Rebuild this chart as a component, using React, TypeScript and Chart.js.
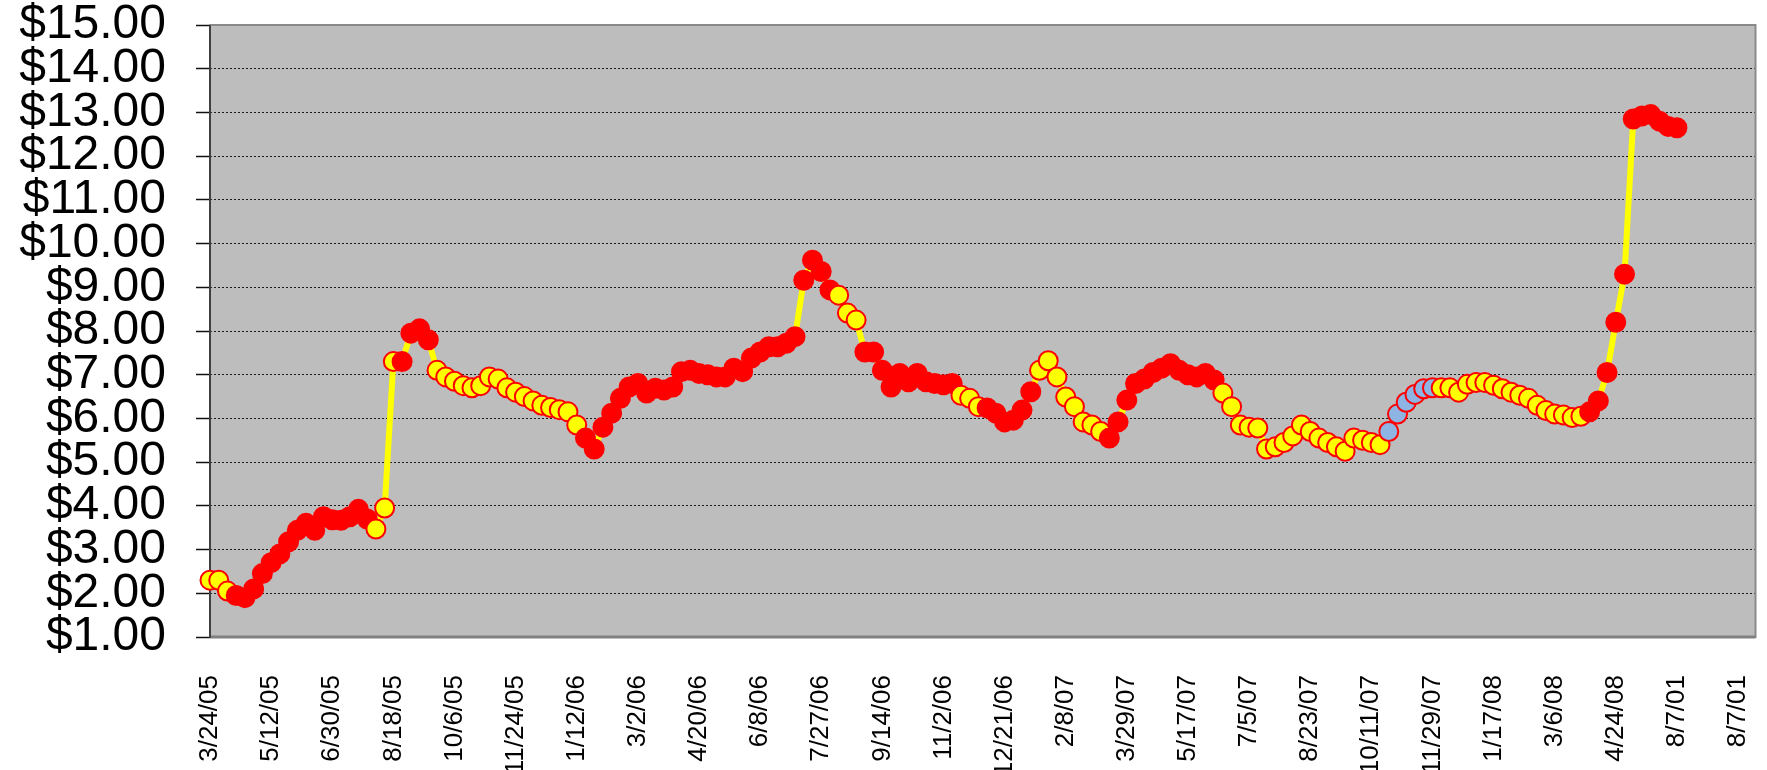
import React, { useEffect, useRef } from 'react';
import { Chart, registerables } from 'chart.js';

Chart.register(...registerables);

// Tick labels shown every 7th weekly category (as printed on the chart)
const tickLabels = [
  '3/24/05', '5/12/05', '6/30/05', '8/18/05', '10/6/05', '11/24/05', '1/12/06',
  '3/2/06', '4/20/06', '6/8/06', '7/27/06', '9/14/06', '11/2/06', '12/21/06',
  '2/8/07', '3/29/07', '5/17/07', '7/5/07', '8/23/07', '10/11/07', '11/29/07',
  '1/17/08', '3/6/08', '4/24/08', '8/7/01', '8/7/01',
];
const labelEvery = 7;
const categoryCount = 178;

// Weekly closing price
const prices = [
  2.3, 2.3, 2.05, 1.95, 1.9, 2.1, 2.45, 2.7, 2.9, 3.18,
  3.44, 3.6, 3.44, 3.75, 3.68, 3.67, 3.75, 3.92, 3.7, 3.47,
  3.95, 7.3, 7.3, 7.95, 8.05, 7.8, 7.1, 6.95, 6.85, 6.75,
  6.7, 6.75, 6.95, 6.9, 6.7, 6.6, 6.5, 6.4, 6.3, 6.25,
  6.2, 6.15, 5.85, 5.55, 5.3, 5.8, 6.12, 6.46, 6.72, 6.8,
  6.58, 6.69, 6.65, 6.72, 7.07, 7.1, 7.03, 7.0, 6.95, 6.95,
  7.15, 7.07, 7.38, 7.52, 7.64, 7.64, 7.72, 7.87, 9.16, 9.62,
  9.36, 8.94, 8.82, 8.41, 8.25, 7.52, 7.52, 7.1, 6.72, 7.03,
  6.84, 7.03, 6.84, 6.8, 6.77, 6.8, 6.53, 6.46, 6.27, 6.24,
  6.12, 5.92, 5.96, 6.19, 6.61, 7.1, 7.32, 6.95, 6.49, 6.27,
  5.92, 5.85, 5.7, 5.55, 5.92, 6.42, 6.8, 6.9, 7.05, 7.15,
  7.25, 7.1, 7.0, 6.95, 7.03, 6.88, 6.58, 6.27, 5.85, 5.8,
  5.78, 5.3, 5.35, 5.45, 5.6, 5.85, 5.7, 5.55, 5.45, 5.35,
  5.25, 5.55, 5.5, 5.45, 5.4, 5.7, 6.1, 6.37, 6.55, 6.68,
  6.7, 6.7, 6.7, 6.6, 6.78, 6.82, 6.82, 6.76, 6.68, 6.6,
  6.53, 6.46, 6.3, 6.18, 6.1, 6.08, 6.02, 6.05, 6.15, 6.4,
  7.05, 8.2, 9.3, 12.85, 12.92, 12.95, 12.8, 12.68, 12.65,
];

// Marker kind per week: Y = yellow, R = red, B = blue
const markerKinds = [
  'Y', 'Y', 'Y', 'R', 'R', 'R', 'R', 'R', 'R', 'R',
  'R', 'R', 'R', 'R', 'R', 'R', 'R', 'R', 'R', 'Y',
  'Y', 'Y', 'R', 'R', 'R', 'R', 'Y', 'Y', 'Y', 'Y',
  'Y', 'Y', 'Y', 'Y', 'Y', 'Y', 'Y', 'Y', 'Y', 'Y',
  'Y', 'Y', 'Y', 'R', 'R', 'R', 'R', 'R', 'R', 'R',
  'R', 'R', 'R', 'R', 'R', 'R', 'R', 'R', 'R', 'R',
  'R', 'R', 'R', 'R', 'R', 'R', 'R', 'R', 'R', 'R',
  'R', 'R', 'Y', 'Y', 'Y', 'R', 'R', 'R', 'R', 'R',
  'R', 'R', 'R', 'R', 'R', 'R', 'Y', 'Y', 'Y', 'R',
  'R', 'R', 'R', 'R', 'R', 'Y', 'Y', 'Y', 'Y', 'Y',
  'Y', 'Y', 'Y', 'R', 'R', 'R', 'R', 'R', 'R', 'R',
  'R', 'R', 'R', 'R', 'R', 'R', 'Y', 'Y', 'Y', 'Y',
  'Y', 'Y', 'Y', 'Y', 'Y', 'Y', 'Y', 'Y', 'Y', 'Y',
  'Y', 'Y', 'Y', 'Y', 'Y', 'B', 'B', 'B', 'B', 'B',
  'B', 'Y', 'Y', 'Y', 'Y', 'Y', 'Y', 'Y', 'Y', 'Y',
  'Y', 'Y', 'Y', 'Y', 'Y', 'Y', 'Y', 'Y', 'R', 'R',
  'R', 'R', 'R', 'R', 'R', 'R', 'R', 'R', 'R',
];

const yMin = 1;
const yMax = 15;

const kindColors: Record<string, string> = {
  Y: '#FFFF00',
  R: '#FF0000',
  B: '#8DB4E2',
};

const categories = Array.from({ length: categoryCount }, (_, i) =>
  i % labelEvery === 0 && tickLabels[i / labelEvery] ? tickLabels[i / labelEvery] : ''
);

const FONT = "'Liberation Sans', Arial, Helvetica, sans-serif";

const plotFrame = {
  id: 'plotFrame',
  beforeDraw(chart: any) {
    const { ctx, chartArea: a } = chart;
    ctx.save();
    ctx.fillStyle = '#BDBDBD';
    ctx.fillRect(a.left, a.top, a.right - a.left, a.bottom - a.top);
    ctx.restore();
  },
  beforeDatasetsDraw(chart: any) {
    const { ctx, chartArea: a } = chart;
    ctx.save();
    ctx.strokeStyle = '#8A8A8A';
    ctx.lineWidth = 2;
    ctx.strokeRect(a.left, a.top, a.right - a.left, a.bottom - a.top);
    ctx.beginPath();
    ctx.strokeStyle = '#808080';
    ctx.lineWidth = 3;
    ctx.moveTo(a.left, a.bottom);
    ctx.lineTo(a.right, a.bottom);
    ctx.stroke();
    ctx.beginPath();
    ctx.strokeStyle = '#404040';
    ctx.lineWidth = 2;
    ctx.moveTo(a.left, a.top);
    ctx.lineTo(a.left, a.bottom + 1);
    ctx.stroke();
    ctx.restore();
  },
};

export default function App() {
  const ref = useRef<HTMLCanvasElement>(null);

  useEffect(() => {
    document.body.style.margin = '0';
    const canvas = ref.current;
    if (!canvas) return;
    const colors = markerKinds.map((k) => kindColors[k]);
    const chart = new Chart(canvas, {
      type: 'line',
      data: {
        labels: categories,
        datasets: [
          {
            data: prices,
            borderColor: '#FFFF00',
            borderWidth: 6,
            tension: 0,
            pointRadius: 9.5,
            pointHoverRadius: 9.5,
            pointBackgroundColor: colors,
            pointBorderColor: '#FF0000',
            pointBorderWidth: 2,
            clip: false as any,
          },
        ],
      },
      options: {
        responsive: false,
        animation: false,
        devicePixelRatio: 1,
        layout: { padding: { top: 25, right: 4, left: 0, bottom: 0 } },
        plugins: {
          legend: { display: false },
          tooltip: { enabled: false },
          title: { display: false },
        },
        scales: {
          x: {
            type: 'category',
            offset: false,
            grid: { display: false, drawTicks: false },
            border: { display: false },
            ticks: {
              autoSkip: false,
              maxRotation: 90,
              minRotation: 90,
              padding: 38,
              color: '#000',
              font: { family: FONT, size: 26 },
            },
            afterFit(scale: any) {
              scale.height = 133;
              scale.paddingLeft = 0;
              scale.paddingRight = 0;
            },
          },
          y: {
            min: yMin,
            max: yMax,
            grid: {
              color: '#1A1A1A',
              lineWidth: 1,
              drawTicks: true,
              tickLength: 14,
              tickColor: '#111',
              tickWidth: 1.5,
              tickBorderDash: [],
              borderDash: [2, 2],
            } as any,
            border: { display: false, dash: [2, 2] } as any,
            ticks: {
              stepSize: 1,
              autoSkip: false,
              padding: 30,
              color: '#000',
              font: { family: FONT, size: 48 },
              callback: (v: any) => '$' + Number(v).toFixed(2),
            },
            afterFit(scale: any) {
              scale.width = 210;
              scale.paddingTop = 0;
              scale.paddingBottom = 0;
            },
          },
        },
      },
      plugins: [plotFrame],
    });
    return () => chart.destroy();
  }, []);

  return (
    <div style={{ position: 'absolute', left: 0, top: 0, width: 1767, height: 770, background: '#fff' }}>
      <canvas ref={ref} width={1767} height={770} style={{ width: 1767, height: 770, display: 'block' }} />
    </div>
  );
}
